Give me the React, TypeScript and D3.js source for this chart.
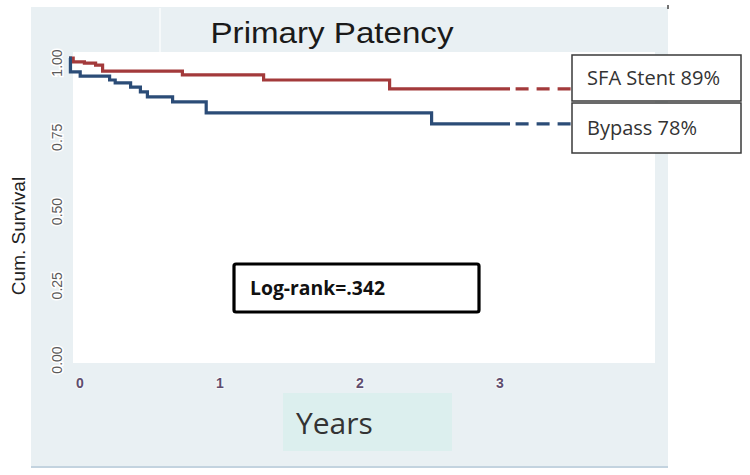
import React, { useEffect, useRef } from "react";
import * as d3 from "d3";

// Kaplan-Meier curves
const stentTimes = [0, 0.03, 0.11, 0.19, 0.24, 0.81, 1.39, 2.29, 3.15];
const stentSurv = [1, 0.987, 0.983, 0.976, 0.956, 0.943, 0.926, 0.896, 0.896];
const bypassTimes = [0, 0.01, 0.08, 0.29, 0.33, 0.44, 0.51, 0.56, 0.74, 0.98, 2.59, 3.15];
const bypassSurv = [1, 0.953, 0.939, 0.926, 0.916, 0.902, 0.886, 0.869, 0.852, 0.815, 0.778, 0.778];
const dashRange = [3.19, 3.59];

const yearTicks = [0, 1, 2, 3];
const survTicks = [0, 0.25, 0.5, 0.75, 1];
const legendLabels = ["SFA Stent 89%", "Bypass 78%"];
const logRankLabel = "Log-rank=.342";

const RED = "#a33a3b";
const BLUE = "#2b4c77";

export default function App() {
  const ref = useRef<SVGSVGElement>(null);

  useEffect(() => {
    const svg = d3.select(ref.current);
    svg.selectAll("*").remove();

    const x = d3.scaleLinear().domain([0, 3]).range([69, 489]);
    const y = d3.scaleLinear().domain([0, 1]).range([355, 58]);

    // panel
    svg.append("rect").attr("x", 31).attr("y", 7).attr("width", 637).attr("height", 461).attr("fill", "#e9f0f3");
    svg.append("line").attr("x1", 31).attr("x2", 668).attr("y1", 467).attr("y2", 467)
      .attr("stroke", "#c3d3df").attr("stroke-width", 2);
    svg.append("line").attr("x1", 160).attr("x2", 160).attr("y1", 8).attr("y2", 52)
      .attr("stroke", "#f6f9fa").attr("stroke-width", 2);
    svg.append("line").attr("x1", 668).attr("x2", 668).attr("y1", 5).attr("y2", 9)
      .attr("stroke", "#444").attr("stroke-width", 1.5);
    svg.append("rect").attr("x", 73).attr("y", 52).attr("width", 582).attr("height", 311).attr("fill", "#ffffff");

    // title
    svg.append("text").attr("x", 332).attr("y", 43).attr("text-anchor", "middle")
      .attr("font-family", "Liberation Sans, Arial, sans-serif").attr("font-size", 29)
      .attr("fill", "#1a1a1a").attr("textLength", 243).attr("lengthAdjust", "spacingAndGlyphs")
      .text("Primary Patency");

    // y axis title
    svg.append("text").attr("transform", "translate(25,236) rotate(-90)").attr("text-anchor", "middle")
      .attr("font-family", "Liberation Sans, Arial, sans-serif").attr("font-size", 19)
      .attr("fill", "#222").text("Cum. Survival");

    // y tick labels
    svg.append("g").selectAll("text").data(survTicks).enter().append("text")
      .attr("transform", d => `translate(62,${y(d) + 5}) rotate(-90)`)
      .attr("text-anchor", "middle")
      .attr("font-family", "Liberation Sans, Arial, sans-serif").attr("font-size", 14)
      .attr("fill", "#5a5a5a").attr("stroke", "#ffffff").attr("stroke-width", 3)
      .attr("paint-order", "stroke")
      .text(d => d3.format(".2f")(d));

    // x tick labels
    svg.append("g").selectAll("text").data(yearTicks).enter().append("text")
      .attr("x", d => x(d) + 11).attr("y", 388).attr("text-anchor", "middle")
      .attr("font-family", "Liberation Sans, Arial, sans-serif").attr("font-size", 14)
      .attr("font-weight", "bold").attr("fill", "#5e4d6e")
      .attr("stroke", "#f4f7f9").attr("stroke-width", 2).attr("paint-order", "stroke")
      .text(d => String(d));

    // Years label box
    svg.append("rect").attr("x", 283).attr("y", 393).attr("width", 169).attr("height", 58).attr("fill", "#dcefee");
    svg.append("text").attr("x", 296).attr("y", 434)
      .attr("font-family", "Open Sans, sans-serif").attr("font-size", 30).attr("fill", "#333")
      .text("Years");

    // curves
    const line = d3.line<[number, number]>()
      .x(d => x(d[0])).y(d => y(d[1])).curve(d3.curveStepAfter);

    const series = [
      { t: stentTimes, s: stentSurv, color: RED },
      { t: bypassTimes, s: bypassSurv, color: BLUE },
    ];
    series.forEach(sr => {
      const pts = sr.t.map((t, i) => [t, sr.s[i]] as [number, number]);
      svg.append("path").attr("d", line(pts)).attr("fill", "none")
        .attr("stroke", sr.color).attr("stroke-width", 3.2);
      const last = sr.s[sr.s.length - 1];
      svg.append("path").attr("d", line([[dashRange[0], last], [dashRange[1], last]]))
        .attr("fill", "none").attr("stroke", sr.color).attr("stroke-width", 3.2)
        .attr("stroke-dasharray", "13 8");
    });

    // legend boxes
    const boxes = [
      { y: 55, h: 46 },
      { y: 103, h: 50 },
    ];
    legendLabels.forEach((lab, i) => {
      svg.append("rect").attr("x", 572).attr("y", boxes[i].y).attr("width", 169).attr("height", boxes[i].h)
        .attr("fill", "#ffffff").attr("stroke", "#3a3a3a").attr("stroke-width", 1.5);
      svg.append("text").attr("x", 587).attr("y", boxes[i].y + boxes[i].h / 2 + 7)
        .attr("font-family", "Open Sans, sans-serif").attr("font-size", 19.5).attr("fill", "#333")
        .attr("textLength", i === 0 ? 133 : 110).attr("lengthAdjust", "spacingAndGlyphs")
        .text(lab);
    });

    // log-rank box
    svg.append("rect").attr("x", 234).attr("y", 264).attr("width", 245).attr("height", 48)
      .attr("fill", "#ffffff").attr("stroke", "#000").attr("stroke-width", 3.2).attr("rx", 2);
    svg.append("text").attr("x", 250).attr("y", 295)
      .attr("font-family", "Open Sans, sans-serif").attr("font-size", 19).attr("font-weight", "bold")
      .attr("fill", "#111").attr("textLength", 135).attr("lengthAdjust", "spacingAndGlyphs")
      .text(logRankLabel);
  }, []);

  return (
    <svg ref={ref} width={750} height={475}
      style={{ position: "absolute", left: 0, top: 0, background: "#ffffff" }} />
  );
}
